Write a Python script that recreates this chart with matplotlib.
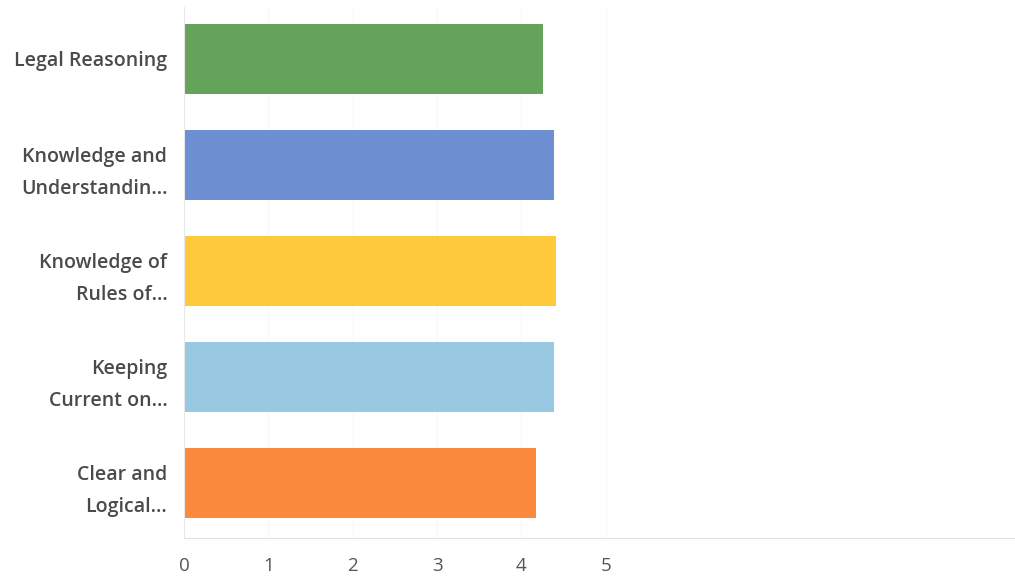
import matplotlib
matplotlib.use("Agg")
import matplotlib.pyplot as plt

# data (top to bottom)
categories = ["Legal Reasoning", "Knowledge and\nUnderstandin...", "Knowledge of\nRules of...",
              "Keeping\nCurrent on...", "Clear and\nLogical..."]
scores = [4.25, 4.38, 4.41, 4.38, 4.17]
bar_colors = ["#66a35a", "#6e8fd2", "#fec93b", "#98c8e2", "#fc8a3e"]
x_ticks = [0, 1, 2, 3, 4, 5]

plt.rcParams["font.family"] = ["Open Sans", "DejaVu Sans"]

fig = plt.figure(figsize=(10.15, 5.77), dpi=100)
# axes: left 184px, right 1015px, top 7px, bottom 538px
ax = fig.add_axes([184 / 1015, 1 - 538 / 577, (1015 - 184) / 1015, (538 - 7) / 577])

ypos = list(range(len(categories)))
ax.barh(ypos, scores, height=0.66, color=bar_colors, zorder=2)

ax.set_ylim(4.52, -0.49)
ax.set_xlim(0, 9.85)
ax.set_yticks(ypos)
ax.set_yticklabels(categories, fontsize=14, color="#4a4a4a", fontweight="semibold",
                   multialignment="right", linespacing=1.75)
ax.set_xticks(x_ticks)
ax.set_xticklabels([str(t) for t in x_ticks], fontsize=13.5, color="#555555")
ax.tick_params(axis="y", length=0, pad=12)
ax.tick_params(axis="x", length=0, pad=14)

ax.grid(axis="x", color="#f7f7f7", linewidth=0.8, zorder=0)
for s in ["top", "right"]:
    ax.spines[s].set_visible(False)
ax.spines["left"].set_color("#e8e8e8")
ax.spines["bottom"].set_color("#e0e0e0")
ax.spines["left"].set_linewidth(0.8)
ax.spines["bottom"].set_linewidth(0.8)

fig.savefig("out.png", dpi=100)
